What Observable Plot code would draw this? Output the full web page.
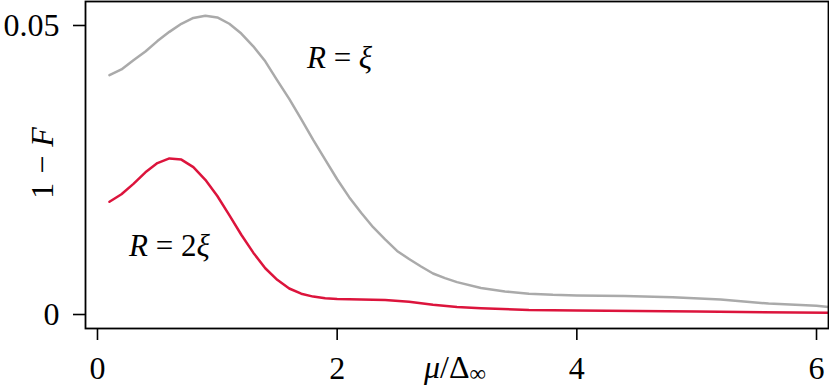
<!DOCTYPE html>
<html><head><meta charset="utf-8">
<script src="https://cdn.jsdelivr.net/npm/d3@7"></script>
<script src="https://cdn.jsdelivr.net/npm/@observablehq/plot@0.6"></script>
<style>body{margin:0;background:#fff}</style>
</head><body><div id="chart"></div>
<script>
// R = xi (gray)
const muR1 = [0.1,0.2,0.3,0.4,0.5,0.6,0.7,0.8,0.9,1.0,1.1,1.2,1.3,1.4,1.5,1.6,1.7,1.8,1.9,2.0,2.1,2.2,2.3,2.4,2.5,2.6,2.7,2.8,2.9,3.0,3.2,3.4,3.6,3.8,4.0,4.4,4.8,5.2,5.6,6.0,6.1];
const valR1 = [0.0414,0.0424,0.0440,0.0455,0.0473,0.0489,0.0503,0.0513,0.0517,0.0514,0.0503,0.0486,0.0464,0.0438,0.0405,0.0373,0.0338,0.0302,0.0268,0.0234,0.0203,0.0176,0.0151,0.0130,0.0110,0.0096,0.0083,0.0071,0.0063,0.0056,0.0046,0.0040,0.0036,0.0034,0.0033,0.0032,0.0030,0.0026,0.0019,0.0015,0.0013];
// R = 2 xi (red)
const muR2 = [0.1,0.2,0.3,0.4,0.5,0.6,0.7,0.8,0.9,1.0,1.1,1.2,1.3,1.4,1.5,1.6,1.7,1.8,1.9,2.0,2.2,2.4,2.6,2.8,3.0,3.2,3.6,4.0,5.0,6.1];
const valR2 = [0.0195,0.0208,0.0226,0.0246,0.0262,0.0270,0.0268,0.0255,0.0233,0.0205,0.0172,0.0138,0.0107,0.0080,0.0060,0.0045,0.0036,0.0031,0.0028,0.0027,0.0026,0.0025,0.0022,0.0017,0.0013,0.0011,0.0008,0.0007,0.0005,0.0003];

const xTicks = [0, 2, 4, 6];
const xTickLabels = ["0", "2", "4", "6"];
const yTicks = [0, 0.05];
const yTickLabels = ["0", "0.05"];
const seriesColors = ["#aaaaaa", "#dc143c"];
const annX = [2.02, 0.6];
const annY = [0.0443, 0.0119];
const annText = ["R = ξ", "R = 2ξ"];

const dataR1 = muR1.map((m, i) => ({mu: m, v: valR1[i]}));
const dataR2 = muR2.map((m, i) => ({mu: m, v: valR2[i]}));
const annotations = annX.map((x, i) => ({x, y: annY[i], label: annText[i]}));

const FONT = "Liberation Serif";
const plot = Plot.plot({
  width: 829, height: 386,
  marginLeft: 85, marginRight: 1, marginTop: 1, marginBottom: 58,
  style: {fontFamily: FONT, fontSize: "32px", background: "white", color: "black", overflow: "visible"},
  x: {domain: [-0.1, 6.1]},
  y: {domain: [-0.00242, 0.05415]},
  marks: [
    Plot.line(dataR1, {x: "mu", y: "v", stroke: seriesColors[0], strokeWidth: 2.5}),
    Plot.line(dataR2, {x: "mu", y: "v", stroke: seriesColors[1], strokeWidth: 2.5}),
    Plot.axisX({ticks: xTicks, tickFormat: d => xTickLabels[xTicks.indexOf(d)], tickSize: 12, tickPadding: 16, label: null, strokeWidth: 1.6, fontSize: 32}),
    Plot.axisY({ticks: yTicks, tickFormat: d => yTickLabels[yTicks.indexOf(d)], tickSize: 12, tickPadding: 14, label: null, strokeWidth: 1.6, fontSize: 32}),
    Plot.frame({stroke: "black", strokeWidth: 1.8}),
    Plot.text(annotations, {x: "x", y: "y", text: "label", fontSize: 31})
  ]
});
document.getElementById("chart").appendChild(plot);

const svg = d3.select(plot);
// italicize math variables in annotations
svg.selectAll("text").each(function() {
  const t = this.textContent;
  if (annText.includes(t)) {
    const m = t.match(/^R = (2?)ξ$/);
    const sel = d3.select(this);
    sel.text(null);
    sel.append("tspan").attr("font-style", "italic").text("R");
    sel.append("tspan").text(" = " + m[1]);
    sel.append("tspan").attr("font-style", "italic").text("ξ");
  }
});
// y-axis label: 1 − F
const yl = svg.append("text")
  .attr("transform", "translate(53,163) rotate(-90)")
  .attr("text-anchor", "middle")
  .attr("font-size", 32).attr("fill", "black");
yl.append("tspan").text("1");
yl.append("tspan").attr("dx", 9).text("−");
yl.append("tspan").attr("dx", 9).attr("font-style", "italic").text("F");
// x-axis label: μ/Δ∞
const xl = svg.append("text")
  .attr("x", 455).attr("y", 378)
  .attr("text-anchor", "middle")
  .attr("font-size", 32).attr("fill", "black");
xl.append("tspan").attr("font-style", "italic").text("μ");
xl.append("tspan").text("/Δ");
xl.append("tspan").attr("font-size", 23).attr("dy", 3).text("∞");

// force serif font with inline !important
plot.style.setProperty("font-family", FONT, "important");
svg.selectAll("text, tspan").each(function() {
  this.style.setProperty("font-family", FONT, "important");
});
</script>
</body></html>
